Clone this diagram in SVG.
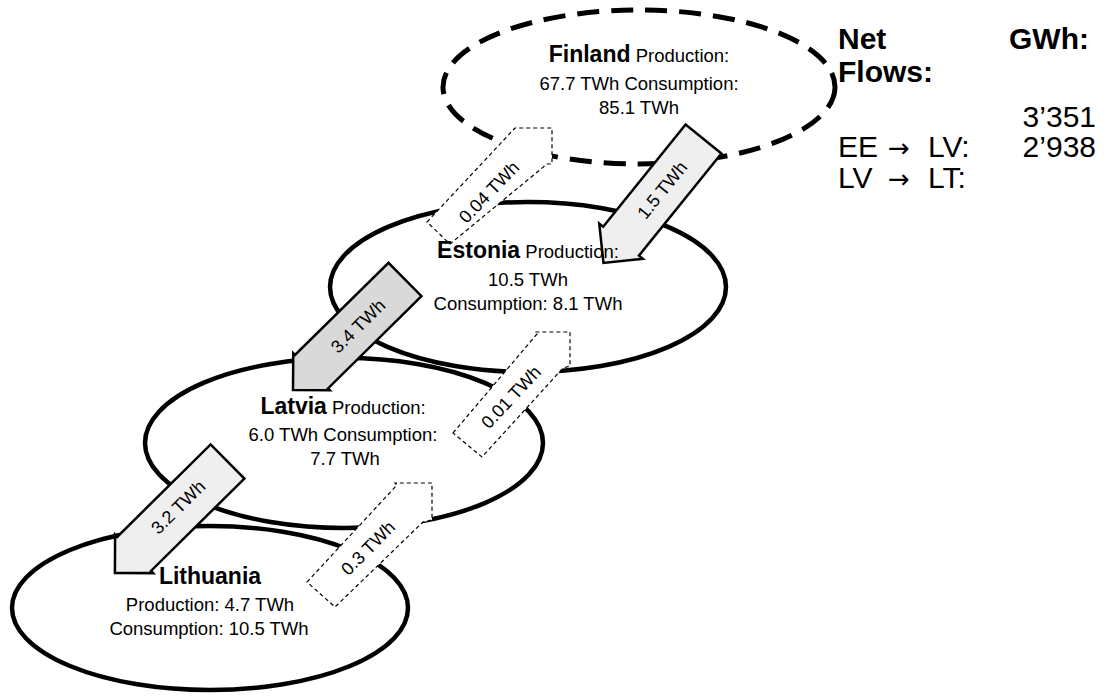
<svg xmlns="http://www.w3.org/2000/svg" width="1109" height="696" viewBox="0 0 1109 696">
  <style>
    text { font-family: "Liberation Sans", Arial, sans-serif; fill: #000; }
    .node-outline { fill: none; stroke: #000; stroke-width: 4.5; }
    .node-dashed { fill: none; stroke: #000; stroke-width: 5; stroke-dasharray: 22 12; }
    .name { font-size: 23px; font-weight: bold; }
    .info { font-size: 18.5px; }
    .flow-main { stroke: #000; stroke-width: 2.5; stroke-linejoin: miter; }
    .flow-light { fill: #efefef; }
    .flow-dark { fill: #d9d9d9; }
    .flow-minor { fill: #fff; stroke: #000; stroke-width: 1.2; stroke-dasharray: 4 3; }
    .flow-label { font-size: 18px; text-anchor: middle; }
    .legend-b { font-size: 30px; font-weight: bold; }
    .legend { font-size: 30px; }
    .legend-arrow { font-family: "DejaVu Sans", sans-serif; font-size: 26px; }
  </style>

  <!-- country outlines -->
  <g id="node-finland-outline"><ellipse class="node-dashed" cx="639" cy="87" rx="196" ry="77"/></g>
  <g id="node-estonia-outline"><ellipse class="node-outline" cx="528" cy="287" rx="198" ry="85"/></g>
  <g id="node-latvia-outline"><ellipse class="node-outline" cx="344" cy="443" rx="199" ry="85"/></g>
  <g id="node-lithuania-outline"><ellipse class="node-outline" cx="210" cy="608" rx="198" ry="82"/></g>

  <!-- flows between countries -->
  <g id="connectors">
    <!-- Finland to Estonia 1.5 TWh -->
    <g transform="translate(703.5,139) rotate(128.9)">
      <path class="flow-main flow-light" d="M0,-23 H131.3 V-28 L159.3,0 L131.3,28 V23 H0 Z"/>
    </g>
    <!-- Estonia to Latvia 3.4 TWh -->
    <g transform="translate(405,279.5) rotate(135.4)">
      <path class="flow-main flow-dark" d="M0,-23.5 H131.3 V-26 L157.3,0 L131.3,26 V23.5 H0 Z"/>
    </g>
    <!-- Latvia to Lithuania 3.2 TWh -->
    <g transform="translate(227.5,461.5) rotate(135.3)">
      <path class="flow-main flow-light" d="M0,-24 H131.4 V-27 L158.4,0 L131.4,27 V24 H0 Z"/>
    </g>
    <!-- reverse minor flows -->
    <polygon class="flow-minor" points="427,222 515,128 552,128 552,164 547,164 450,244"/>
    <polygon class="flow-minor" points="453,433 537,334 535,332 570,332 570,366 563,368 482,457"/>
    <polygon class="flow-minor" points="307,582 397,485 395,483 432,483 432,520 423,522 335,607"/>

    <text class="flow-label" transform="translate(662,190) rotate(-51.1)" dy="0.35em">1.5 TWh</text>
    <text class="flow-label" transform="translate(358,326) rotate(-44.6)" dy="0.35em">3.4 TWh</text>
    <text class="flow-label" transform="translate(178,507) rotate(-44.7)" dy="0.35em">3.2 TWh</text>
    <text class="flow-label" transform="translate(489,192) rotate(-46)" dy="0.35em">0.04 TWh</text>
    <text class="flow-label" transform="translate(511,397) rotate(-47)" dy="0.35em">0.01 TWh</text>
    <text class="flow-label" transform="translate(368,548) rotate(-45)" dy="0.35em">0.3 TWh</text>
  </g>

  <!-- country labels -->
  <g id="node-finland">
    <text x="639" y="62" text-anchor="middle"><tspan class="name">Finland</tspan><tspan class="info"> Production:</tspan></text>
    <text class="info" x="639" y="90" text-anchor="middle">67.7 TWh Consumption:</text>
    <text class="info" x="639" y="114" text-anchor="middle">85.1 TWh</text>
  </g>
  <g id="node-estonia">
    <text x="528" y="258" text-anchor="middle"><tspan class="name">Estonia</tspan><tspan class="info"> Production:</tspan></text>
    <text class="info" x="528" y="286" text-anchor="middle">10.5 TWh</text>
    <text class="info" x="528" y="310" text-anchor="middle">Consumption: 8.1 TWh</text>
  </g>
  <g id="node-latvia">
    <text x="343" y="414" text-anchor="middle"><tspan class="name">Latvia</tspan><tspan class="info"> Production:</tspan></text>
    <text class="info" x="343" y="441" text-anchor="middle">6.0 TWh Consumption:</text>
    <text class="info" x="345" y="465" text-anchor="middle">7.7 TWh</text>
  </g>
  <g id="node-lithuania">
    <text class="name" x="210" y="584" text-anchor="middle">Lithuania</text>
    <text class="info" x="210" y="611" text-anchor="middle">Production: 4.7 TWh</text>
    <text class="info" x="209" y="635" text-anchor="middle">Consumption: 10.5 TWh</text>
  </g>

  <!-- net flow table -->
  <g id="net-flows">
    <text class="legend-b" x="838" y="49">Net</text>
    <text class="legend-b" x="1009" y="49">GWh:</text>
    <text class="legend-b" x="838" y="82">Flows:</text>
    <text class="legend" x="1096" y="127" text-anchor="end">3’351</text>
    <text class="legend" x="838" y="157"><tspan>EE</tspan><tspan class="legend-arrow" x="888">→</tspan><tspan x="928">LV:</tspan></text>
    <text class="legend" x="1096" y="157" text-anchor="end">2’938</text>
    <text class="legend" x="838" y="188"><tspan>LV</tspan><tspan class="legend-arrow" x="888">→</tspan><tspan x="928">LT:</tspan></text>
  </g>
</svg>
